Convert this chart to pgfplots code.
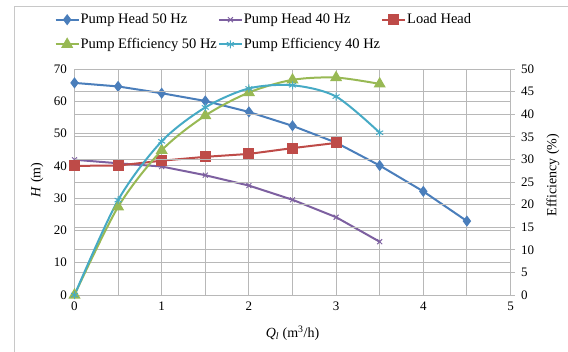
\documentclass[border=0pt]{standalone}
\usepackage{fontspec}
\setmainfont{Liberation Serif}
\usepackage{pgfplots}
\pgfplotsset{compat=1.18}
\definecolor{cBlue}{HTML}{4A7EBB}
\definecolor{cRed}{HTML}{BE4B48}
\definecolor{cGreen}{HTML}{98B954}
\definecolor{cPurple}{HTML}{7D60A0}
\definecolor{cCyan}{HTML}{46AAC5}
\definecolor{cGrid}{HTML}{B8B8B8}
\definecolor{cFrame}{HTML}{C8C8C8}
\begin{document}
\begin{tikzpicture}
\useasboundingbox (0pt,0pt) rectangle (568pt,-351pt);
\draw[cFrame, line width=1pt] (14pt,-360pt) -- (14pt,-6pt) -- (580pt,-6pt);
\pgfplotsset{
  myaxis/.style={
    at={(74.5pt,-295pt)}, anchor=south west,
    scale only axis, width=436pt, height=226pt,
    xmin=0, xmax=5,
    /pgf/number format/assume math mode=true,
    tick label style={font=\fontsize{13}{15}\selectfont},
    major tick length=0pt, minor tick length=0pt,
    axis line style={cGrid, line width=1pt},
    grid style={cGrid, line width=1pt},
  }
}
\begin{axis}[myaxis,
  ymin=0, ymax=70,
  xtick={0,1,2,3,4,5}, ytick={0,10,...,70},
  minor x tick num=1,
  xmajorgrids, xminorgrids, ymajorgrids,
  minor grid style={cGrid, line width=1pt},
  xlabel={\textit{Q}\textsubscript{\textit{l}} (m\textsuperscript{3}/h)},
  ylabel={\textit{H} (m)},
  every axis x label/.style={at={(axis description cs:0.5,0)}, anchor=center, yshift=-38pt, font=\fontsize{14}{16}\selectfont},
  every axis y label/.style={at={(axis description cs:0,0.5)}, anchor=center, rotate=90, yshift=37.5pt, xshift=2pt, font=\fontsize{14}{16}\selectfont},
  xticklabel style={yshift=-3pt},
  yticklabel style={xshift=-4pt},
]
\addplot[cBlue, line width=2pt, mark=diamond*, mark size=4pt, mark options={solid}] coordinates {
(0,65.7) (0.5,64.6) (1,62.5) (1.5,60.1) (2,56.7) (2.5,52.4) (3,47.2) (3.5,40.1) (4,32.1) (4.5,22.9)};
\addplot[cPurple, line width=2pt, mark=x, mark size=3.5pt, mark options={solid, line width=1pt}] coordinates {
(0,41.9) (0.5,40.8) (1,39.8) (1.5,37.1) (2,33.9) (2.5,29.5) (3,24.1) (3.5,16.5)};
\addplot[cRed, line width=2pt, mark=square*, mark size=4.5pt, mark options={solid}] coordinates {
(0,40.0) (0.5,40.1) (1,41.6) (1.5,42.8) (2,43.7) (2.5,45.5) (3,47.1)};
\end{axis}
\begin{axis}[myaxis,
  ymin=0, ymax=50,
  axis x line=none,
  axis y line*=right,
  ytick={0,5,...,50},
  ymajorgrids,
  major tick length=4pt,
  ytick style={cGrid, line width=1pt},
  tick align=outside,
  yticklabel style={xshift=3pt},
  ylabel={Efficiency (\%)},
  every axis y label/.style={at={(axis description cs:1,0.5)}, anchor=center, rotate=90, yshift=-42.5pt, xshift=7pt, font=\fontsize{14}{16}\selectfont},
  legend columns=3,
  legend style={at={(-0.0528,1.258)}, anchor=north west, draw=none, fill=none,
    font=\fontsize{14.5}{17}\selectfont, row sep=11pt,
    /tikz/every even column/.append style={column sep=0pt},
    nodes={inner xsep=1pt, inner ysep=1pt}},
  legend cell align=left,
  legend image code/.code={\draw[mark repeat=2, mark phase=2, #1] plot coordinates {(0pt,0pt) (11.5pt,0pt) (23pt,0pt)};},
]
\addlegendimage{cBlue, line width=2pt, mark=diamond*, mark size=4pt, mark options={solid}}
\addlegendentry{Pump Head 50 Hz}
\addlegendimage{cPurple, line width=2pt, mark=x, mark size=3.5pt, mark options={solid, line width=1pt}}
\addlegendentry{Pump Head 40 Hz}
\addlegendimage{cRed, line width=2pt, mark=square*, mark size=4.5pt, mark options={solid}}
\addlegendentry{Load Head}
\addplot[cGreen, line width=2pt, smooth, tension=0.5, mark=triangle*, mark size=5pt, mark options={solid}] coordinates {
(0,0) (0.5,19.5) (1,32.0) (1.5,39.7) (2,44.8) (2.5,47.6) (3,48.1) (3.5,46.7)};
\addlegendentry{Pump Efficiency 50 Hz}
\addplot[cCyan, line width=2pt, smooth, tension=0.5, mark=asterisk, mark size=4pt, mark options={solid, line width=1pt}] coordinates {
(0,0) (0.5,21.0) (1,34.0) (1.5,41.5) (2,45.7) (2.5,46.4) (3,43.9) (3.5,35.9)};
\addlegendentry{Pump Efficiency 40 Hz}
\end{axis}
\end{tikzpicture}
\end{document}
